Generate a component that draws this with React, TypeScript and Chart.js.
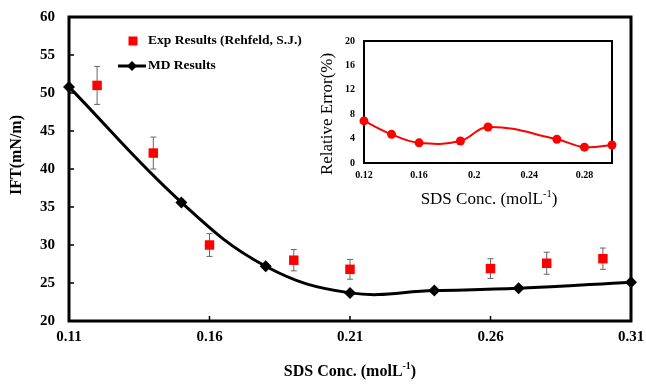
import React, { useEffect, useRef } from 'react';
import { Chart, registerables } from 'chart.js';

Chart.register(...registerables);

// Interfacial tension vs SDS concentration
const expConc = [0.12, 0.14, 0.16, 0.19, 0.21, 0.26, 0.28, 0.3];
const expIFT = [51.0, 42.1, 30.0, 28.0, 26.8, 26.9, 27.6, 28.2];
const expErr = [2.5, 2.1, 1.5, 1.4, 1.3, 1.3, 1.45, 1.4];

const mdConc = [0.11, 0.15, 0.18, 0.21, 0.24, 0.27, 0.31];
const mdIFT = [50.8, 35.6, 27.2, 23.7, 24.0, 24.3, 25.1];

// Relative error between simulation and experiment
const errConc = [0.12, 0.14, 0.16, 0.19, 0.21, 0.26, 0.28, 0.3];
const relError = [6.9, 4.7, 3.3, 3.6, 5.9, 3.9, 2.6, 2.95];

const mainXTicks = [0.11, 0.16, 0.21, 0.26, 0.31];
const mainXTickLabels = ['0.11', '0.16', '0.21', '0.26', '0.31'];
const mainYTicks = [20, 25, 30, 35, 40, 45, 50, 55, 60];

const insetXTicks = [0.12, 0.16, 0.2, 0.24, 0.28];
const insetXTickLabels = ['0.12', '0.16', '0.2', '0.24', '0.28'];
const insetYTicks = [0, 4, 8, 12, 16, 20];

const xTitleParts = [
  { text: 'SDS Conc. (molL', sup: false },
  { text: '-1', sup: true },
  { text: ')', sup: false },
];

const SERIF = "'Liberation Serif', 'Times New Roman', serif";

type Part = { text: string; sup: boolean };

// Writes a one-line label with superscript pieces, centred on (cx, cy)
function drawRichText(ctx: CanvasRenderingContext2D, parts: Part[], cx: number, cy: number, weight: string, size: number) {
  const supSize = size * 0.62;
  const fontFor = (p: Part) => `${weight} ${p.sup ? supSize : size}px ${SERIF}`;
  let total = 0;
  const widths = parts.map((p) => {
    ctx.font = fontFor(p);
    const w = ctx.measureText(p.text).width;
    total += w;
    return w;
  });
  let x = cx - total / 2;
  ctx.textAlign = 'left';
  ctx.textBaseline = 'middle';
  ctx.fillStyle = '#000';
  parts.forEach((p, i) => {
    ctx.font = fontFor(p);
    ctx.fillText(p.text, x, p.sup ? cy - size * 0.33 : cy);
    x += widths[i];
  });
}

function drawVerticalText(ctx: CanvasRenderingContext2D, text: string, cx: number, cy: number, font: string) {
  ctx.save();
  ctx.translate(cx, cy);
  ctx.rotate(-Math.PI / 2);
  ctx.font = font;
  ctx.fillStyle = '#000';
  ctx.textAlign = 'center';
  ctx.textBaseline = 'middle';
  ctx.fillText(text, 0, 0);
  ctx.restore();
}

const framePlugin = (width: number) => ({
  id: 'frame',
  beforeDatasetsDraw(chart: any) {
    const { ctx, chartArea: a } = chart;
    ctx.save();
    ctx.strokeStyle = '#000';
    ctx.lineWidth = width;
    ctx.strokeRect(a.left, a.top, a.right - a.left, a.bottom - a.top);
    ctx.restore();
  },
});

const titlesPlugin = (
  yTitle: string,
  yPos: [number, number],
  xPos: [number, number],
  weight: string,
  size: number
) => ({
  id: 'axisTitles',
  afterDraw(chart: any) {
    const { ctx } = chart;
    ctx.save();
    drawVerticalText(ctx, yTitle, yPos[0], yPos[1], `${weight} ${size}px ${SERIF}`);
    drawRichText(ctx, xTitleParts, xPos[0], xPos[1], weight, size);
    ctx.restore();
  },
});

// Short tick marks pointing into the plot area
const innerTicksPlugin = {
  id: 'innerTicks',
  beforeDatasetsDraw(chart: any) {
    const { ctx, chartArea: a, scales } = chart;
    ctx.save();
    ctx.strokeStyle = '#000';
    ctx.lineWidth = 1.5;
    ctx.beginPath();
    scales.x.ticks.forEach((t: any, i: number, arr: any[]) => {
      if (i === 0 || i === arr.length - 1) return;
      const px = scales.x.getPixelForValue(t.value);
      ctx.moveTo(px, a.bottom);
      ctx.lineTo(px, a.bottom - 5);
    });
    scales.y.ticks.forEach((t: any, i: number, arr: any[]) => {
      if (i === 0 || i === arr.length - 1) return;
      const py = scales.y.getPixelForValue(t.value);
      ctx.moveTo(a.left, py);
      ctx.lineTo(a.left + 5, py);
    });
    ctx.stroke();
    ctx.restore();
  },
};

const errorBarPlugin = {
  id: 'errorBars',
  beforeDatasetsDraw(chart: any) {
    const { ctx, scales } = chart;
    ctx.save();
    ctx.strokeStyle = '#666';
    ctx.lineWidth = 1;
    ctx.beginPath();
    expConc.forEach((c, i) => {
      const px = scales.x.getPixelForValue(c);
      const top = scales.y.getPixelForValue(expIFT[i] + expErr[i]);
      const bot = scales.y.getPixelForValue(expIFT[i] - expErr[i]);
      ctx.moveTo(px, top);
      ctx.lineTo(px, bot);
      ctx.moveTo(px - 3, top);
      ctx.lineTo(px + 3, top);
      ctx.moveTo(px - 3, bot);
      ctx.lineTo(px + 3, bot);
    });
    ctx.stroke();
    ctx.restore();
  },
};

const legendPlugin = {
  id: 'insideLegend',
  afterDraw(chart: any) {
    const { ctx } = chart;
    const ds = chart.data.datasets;
    ctx.save();
    ctx.font = `bold 13.5px ${SERIF}`;
    ctx.textBaseline = 'middle';
    ctx.textAlign = 'left';
    // experimental entry
    ctx.fillStyle = ds[0].backgroundColor;
    ctx.fillRect(128.5, 36.5, 9, 9);
    ctx.fillStyle = '#000';
    ctx.fillText(ds[0].label, 148, 41);
    // simulation entry
    ctx.strokeStyle = ds[1].borderColor;
    ctx.lineWidth = 3;
    ctx.beginPath();
    ctx.moveTo(118, 66);
    ctx.lineTo(146, 66);
    ctx.stroke();
    ctx.beginPath();
    ctx.moveTo(132, 61);
    ctx.lineTo(137, 66);
    ctx.lineTo(132, 71);
    ctx.lineTo(127, 66);
    ctx.closePath();
    ctx.fillStyle = '#000';
    ctx.fill();
    ctx.fillText(ds[1].label, 148, 66);
    ctx.restore();
  },
};

// Fixed axis box sizes; label overhang is absorbed by the layout padding
const fixHeight = (h: number) => (s: any) => {
  s.height = h;
  s.paddingLeft = 0;
  s.paddingRight = 0;
};
const fixWidth = (w: number) => (s: any) => {
  s.width = w;
  s.paddingTop = 0;
  s.paddingBottom = 0;
};

function MainChart() {
  const ref = useRef<HTMLCanvasElement>(null);
  useEffect(() => {
    if (!ref.current) return;
    const tickFont = { family: SERIF, size: 15, weight: 'bold' as const };
    const chart = new Chart(ref.current, {
      type: 'line',
      data: {
        datasets: [
          {
            label: 'Exp Results (Rehfeld, S.J.)',
            data: expConc.map((x, i) => ({ x, y: expIFT[i] })),
            showLine: false,
            pointStyle: 'rect',
            pointRadius: 6.7,
            pointBorderWidth: 0,
            backgroundColor: '#ff0000',
            borderColor: '#ff0000',
            clip: false as any,
          },
          {
            label: 'MD Results',
            data: mdConc.map((x, i) => ({ x, y: mdIFT[i] })),
            borderColor: '#000',
            backgroundColor: '#000',
            borderWidth: 3,
            tension: 0.4,
            pointStyle: 'rectRot',
            pointRadius: 6,
            pointBorderWidth: 0,
            clip: false as any,
          },
        ],
      },
      options: {
        animation: false,
        responsive: false,
        maintainAspectRatio: false,
        layout: { padding: { left: 0, top: 17, right: 15, bottom: 0 } },
        plugins: { legend: { display: false }, tooltip: { enabled: false } },
        scales: {
          x: {
            type: 'linear',
            min: 0.11,
            max: 0.31,
            grid: { display: false, drawTicks: false },
            border: { display: false },
            afterBuildTicks: (s: any) => {
              s.ticks = mainXTicks.map((v) => ({ value: v }));
            },
            afterFit: fixHeight(63),
            ticks: {
              font: tickFont,
              color: '#000',
              padding: 7,
              maxRotation: 0,
              autoSkip: false,
              callback: (_v: any, i: number) => mainXTickLabels[i],
            },
          },
          y: {
            type: 'linear',
            min: 20,
            max: 60,
            grid: { display: false, drawTicks: false },
            border: { display: false },
            afterBuildTicks: (s: any) => {
              s.ticks = mainYTicks.map((v) => ({ value: v }));
            },
            afterFit: fixWidth(69),
            ticks: {
              font: tickFont,
              color: '#000',
              padding: 14,
              callback: (v: any) => String(v),
            },
          },
        },
      },
      plugins: [
        framePlugin(3),
        innerTicksPlugin,
        errorBarPlugin,
        legendPlugin,
        titlesPlugin('IFT(mN/m)', [17, 155], [350, 372], 'bold', 16),
      ],
    });
    return () => chart.destroy();
  }, []);
  return <canvas ref={ref} width={646} height={384} style={{ display: 'block' }} />;
}

function InsetChart() {
  const ref = useRef<HTMLCanvasElement>(null);
  useEffect(() => {
    if (!ref.current) return;
    const tickFont = { family: SERIF, size: 10, weight: 'bold' as const };
    const chart = new Chart(ref.current, {
      type: 'line',
      data: {
        datasets: [
          {
            label: 'Relative Error',
            data: errConc.map((x, i) => ({ x, y: relError[i] })),
            borderColor: '#ff0000',
            backgroundColor: '#ff0000',
            borderWidth: 2,
            tension: 0.4,
            pointRadius: 4.5,
            pointBorderWidth: 0,
            clip: false as any,
          },
        ],
      },
      options: {
        animation: false,
        responsive: false,
        maintainAspectRatio: false,
        layout: { padding: { left: 0, top: 21, right: 18, bottom: 0 } },
        plugins: { legend: { display: false }, tooltip: { enabled: false } },
        scales: {
          x: {
            type: 'linear',
            min: 0.12,
            max: 0.3,
            grid: { display: false, drawTicks: false },
            border: { display: false },
            afterBuildTicks: (s: any) => {
              s.ticks = insetXTicks.map((v) => ({ value: v }));
            },
            afterFit: fixHeight(57),
            ticks: {
              font: tickFont,
              color: '#000',
              padding: 6,
              maxRotation: 0,
              autoSkip: false,
              callback: (_v: any, i: number) => insetXTickLabels[i],
            },
          },
          y: {
            type: 'linear',
            min: 0,
            max: 20,
            grid: { display: false, drawTicks: false },
            border: { display: false },
            afterBuildTicks: (s: any) => {
              s.ticks = insetYTicks.map((v) => ({ value: v }));
            },
            afterFit: fixWidth(64),
            ticks: {
              font: tickFont,
              color: '#000',
              padding: 9,
              callback: (v: any) => String(v),
            },
          },
        },
      },
      plugins: [framePlugin(2), titlesPlugin('Relative Error(%)', [28, 94], [189, 180], 'normal', 17)],
    });
    return () => chart.destroy();
  }, []);
  return <canvas ref={ref} width={330} height={200} style={{ display: 'block' }} />;
}

export default function App() {
  return (
    <div style={{ position: 'absolute', left: 0, top: 0, width: 646, height: 384, background: '#fff' }}>
      <MainChart />
      <div style={{ position: 'absolute', left: 300, top: 20 }}>
        <InsetChart />
      </div>
    </div>
  );
}
